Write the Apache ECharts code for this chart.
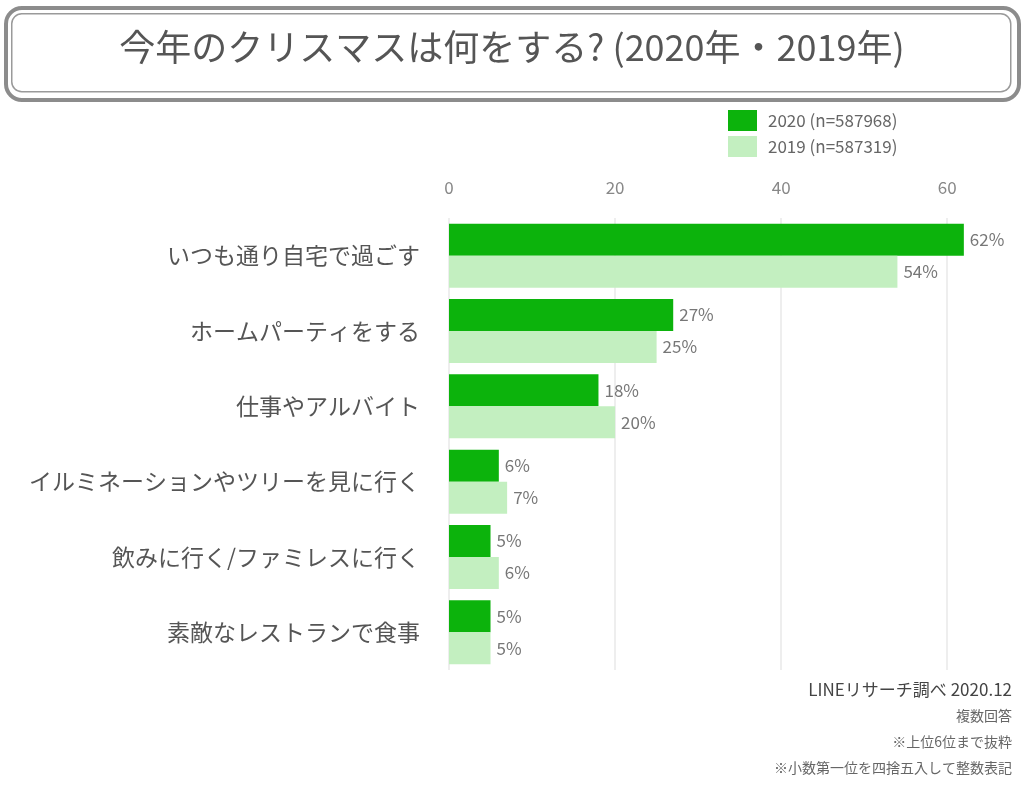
<!DOCTYPE html>
<html>
<head>
    <meta charset="UTF-8">
    <title>今年のクリスマスは何をする?</title>
<script src="https://cdn.jsdelivr.net/npm/echarts@6/dist/echarts.min.js"></script>
<style>
    html, body { margin: 0; padding: 0; background: #fff; }
</style>
</head>
<body>
    <div id="main" style="width: 1024px;height:787px;"></div>
    <script type="text/javascript">
        // データ
        var categories = ['いつも通り自宅で過ごす', 'ホームパーティをする', '仕事やアルバイト',
            'イルミネーションやツリーを見に行く', '飲みに行く/ファミレスに行く', '素敵なレストランで食事'];
        var seriesNames = ['2020 (n=587968)', '2019 (n=587319)'];
        var values2020 = [62, 27, 18, 6, 5, 5];
        var values2019 = [54, 25, 20, 7, 6, 5];
        var xTicks = [0, 20, 40, 60];
        var notes = ['LINEリサーチ調べ 2020.12', '複数回答', '※上位6位まで抜粋', '※小数第一位を四捨五入して整数表記'];

        var font = '"Noto Sans CJK JP", "Noto Sans", sans-serif';
        var colors = ['#0cb30c', '#c3efc0'];
        var textColor = '#555';

        var myChart = echarts.init(document.getElementById('main'));

        function valueLabel() {
            return {
                show: true,
                position: 'right',
                distance: 6,
                formatter: '{c}%',
                color: '#777',
                fontSize: 17,
                fontFamily: font
            };
        }

        var option = {
            backgroundColor: '#fff',
            animation: false,
            textStyle: { fontFamily: font },
            graphic: [
                // タイトルの二重枠
                {
                    type: 'rect', left: 4, top: 6,
                    shape: { width: 1013, height: 92, r: 16 },
                    style: { fill: '#fff', stroke: '#8c8c8c', lineWidth: 4 }
                },
                {
                    type: 'rect', left: 11, top: 13,
                    shape: { width: 999, height: 78, r: 10 },
                    style: { fill: '#fff', stroke: '#9a9a9a', lineWidth: 1.5 }
                },
                {
                    type: 'text', left: 'center', top: 29,
                    style: {
                        text: '今年のクリスマスは何をする? (2020年・2019年)',
                        fill: '#555', fontSize: 36, fontWeight: 'normal', fontFamily: font
                    }
                },
                // 注記
                { type: 'text', right: 12, top: 681, style: { text: notes[0], fill: '#444', fontSize: 17, fontFamily: font } },
                { type: 'text', right: 12, top: 709, style: { text: notes[1], fill: '#666', fontSize: 14, fontFamily: font } },
                { type: 'text', right: 12, top: 735, style: { text: notes[2], fill: '#666', fontSize: 14, fontFamily: font } },
                { type: 'text', right: 12, top: 761, style: { text: notes[3], fill: '#666', fontSize: 14, fontFamily: font } }
            ],
            legend: {
                orient: 'vertical',
                left: 723,
                top: 105,
                icon: 'rect',
                itemWidth: 29,
                itemHeight: 21,
                itemGap: 5,
                textStyle: { color: '#666', fontSize: 17, fontFamily: font, padding: [0, 0, 0, 6] },
                data: seriesNames
            },
            grid: {
                left: 449,
                right: 56,
                top: 218,
                bottom: 117
            },
            xAxis: {
                type: 'value',
                position: 'top',
                min: xTicks[0],
                max: 62.5,
                interval: 20,
                axisLine: { show: false },
                axisTick: { show: false },
                axisLabel: {
                    color: '#888',
                    fontSize: 17,
                    margin: 22,
                    showMaxLabel: false,
                    formatter: function (v) { return xTicks.indexOf(v) >= 0 ? String(v) : ''; }
                },
                splitLine: {
                    show: true,
                    showMaxLine: false,
                    lineStyle: { color: '#e9e9e9', width: 1.5 }
                }
            },
            yAxis: {
                type: 'category',
                inverse: true,
                data: categories,
                axisLine: { show: false },
                axisTick: { show: false },
                axisLabel: {
                    color: textColor,
                    fontSize: 23,
                    margin: 29,
                    fontFamily: font
                }
            },
            series: [
                {
                    name: seriesNames[0],
                    type: 'bar',
                    data: values2020,
                    barGap: '0%',
                    barCategoryGap: '15%',
                    itemStyle: { color: colors[0] },
                    label: valueLabel()
                },
                {
                    name: seriesNames[1],
                    type: 'bar',
                    data: values2019,
                    barGap: '0%',
                    barCategoryGap: '15%',
                    itemStyle: { color: colors[1] },
                    label: valueLabel()
                }
            ]
        };
        myChart.setOption(option);
    </script>
</body>
</html>
